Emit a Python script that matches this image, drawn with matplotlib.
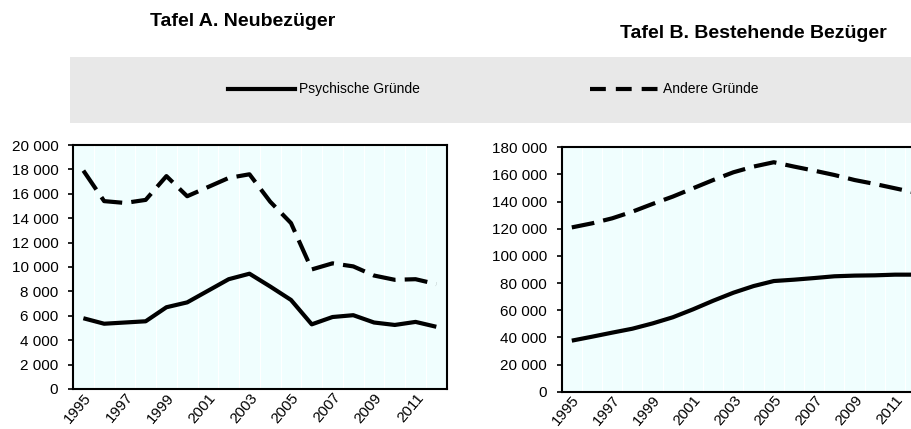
import matplotlib.pyplot as plt
from matplotlib.lines import Line2D
from matplotlib.patches import Rectangle
from matplotlib.ticker import FuncFormatter

years = list(range(1995, 2013))

# Tafel A. Neubezüger
neu_psych = [5800, 5350, 5450, 5550, 6700, 7100, 8050, 9000, 9450,
             8400, 7300, 5300, 5900, 6050, 5450, 5250, 5500, 5100]
neu_andere = [17900, 15400, 15250, 15500, 17450, 15800, 16550, 17300, 17600,
              15350, 13600, 9800, 10300, 10050, 9300, 8950, 9000, 8600]

# Tafel B. Bestehende Bezüger
best_psych = [37600, 40500, 43500, 46400, 50300, 54800, 60650, 67000, 72900,
              77800, 81500, 82500, 83700, 85000, 85500, 85700, 86200, 86200]
best_andere = [121000, 124000, 127700, 132600, 138300, 143700, 149800, 155900, 161600,
               165800, 169000, 165800, 162800, 159600, 155900, 153000, 149800, 146600]

titles = ["Tafel A. Neubezüger", "Tafel B. Bestehende Bezüger"]
legend_labels = ["Psychische Gründe", "Andere Gründe"]

plt.rcParams["font.family"] = ["Liberation Sans", "DejaVu Sans"]

fig = plt.figure(figsize=(9.11, 4.29), dpi=100)
W, H = 911, 429


def fig_rect(x0, y_top, x1, y_bot):
    return [x0 / W, 1 - y_bot / H, (x1 - x0) / W, (y_bot - y_top) / H]


def thousands(v, pos):
    return f"{int(v):,}".replace(",", " ")


ax_a = fig.add_axes(fig_rect(73, 145, 446.7, 389))
ax_b = fig.add_axes(fig_rect(561.7, 147.3, 925.3, 391.7))

panels = [
    (ax_a, neu_psych, neu_andere, 20000, 2000),
    (ax_b, best_psych, best_andere, 180000, 20000),
]

for ax, psych, andere, ymax, step in panels:
    ax.set_facecolor("#F0FEFE")
    ax.plot(years, psych, color="black", lw=3, solid_capstyle="butt")
    ax.plot(years, andere, color="black", lw=3, dashes=(5.5, 2.2), dash_capstyle="butt")
    ax.set_xlim(1994.5, 2012.5)
    ax.set_ylim(0, ymax)
    ax.set_yticks(range(0, ymax + 1, step))
    ax.yaxis.set_major_formatter(FuncFormatter(thousands))
    ax.set_xticks(years[::2])
    ax.set_xticklabels([str(y) for y in years[::2]], rotation=50, ha="right",
                       rotation_mode="anchor")
    ax.set_xticks([y + 0.5 for y in years[:-1]], minor=True)
    ax.grid(axis="x", which="minor", color="white", lw=0.8)
    ax.tick_params(axis="x", which="both", length=0, labelsize=11, pad=1)
    ax.tick_params(axis="y", length=3.6, width=1.2, labelsize=11, pad=7)
    for s in ax.spines.values():
        s.set_linewidth(1.5)
        s.set_color("black")

# titles
fig.text(243 / W, 1 - 22 / H, titles[0], ha="center", va="center",
         fontsize=14, fontweight="bold")
fig.text(753 / W, 1 - 33 / H, titles[1], ha="center", va="center",
         fontsize=14, fontweight="bold")

# legend band
fig.patches.append(Rectangle((70 / W, 1 - 123 / H), (911 - 70) / W, 66 / H,
                             transform=fig.transFigure, facecolor="#E8E8E8",
                             edgecolor="none", zorder=0))
ly = 1 - 89 / H
fig.lines.append(Line2D([228 / W, 295 / W], [ly, ly], transform=fig.transFigure,
                        color="black", lw=3))
fig.lines.append(Line2D([590 / W, 658 / W], [ly, ly], transform=fig.transFigure,
                        color="black", lw=3, dashes=(3.8, 2.4), dash_capstyle="butt"))
fig.text(299 / W, ly, legend_labels[0], ha="left", va="center", fontsize=10)
fig.text(663 / W, ly, legend_labels[1], ha="left", va="center", fontsize=10)

fig.savefig("out.png", dpi=100)
